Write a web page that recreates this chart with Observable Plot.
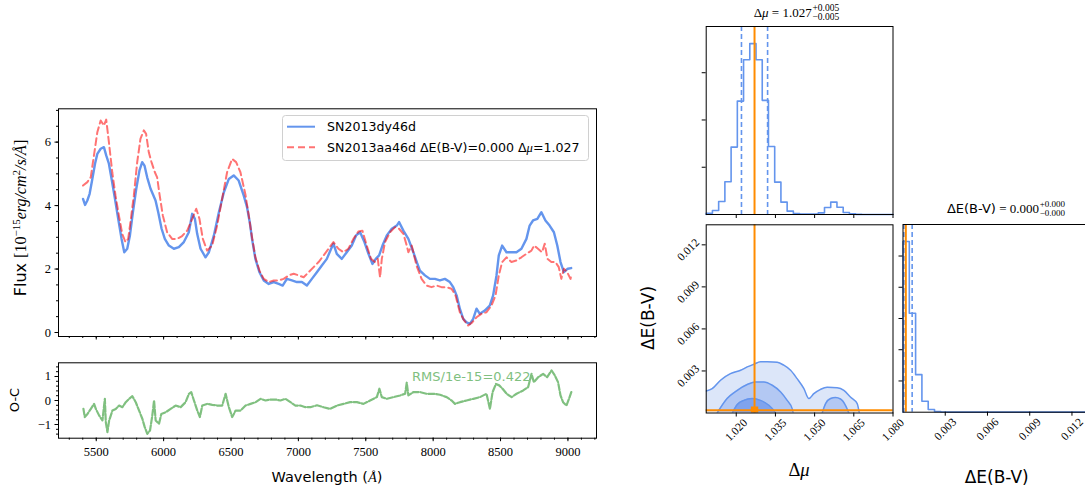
<!DOCTYPE html>
<html><head><meta charset="utf-8">
<script src="https://cdn.jsdelivr.net/npm/d3@7"></script>
<script src="https://cdn.jsdelivr.net/npm/@observablehq/plot@0.6"></script>
<style>
body{margin:0;background:#fff}
#fig{position:relative;width:1085px;height:490px;overflow:hidden;background:#fff}
#fig svg{position:absolute;overflow:visible}
</style></head><body><div id="fig"></div><script>
// ---------- spectrum data ----------
const blueWave = [5402,5417,5434,5451,5471,5491,5508,5533,5557,5574,5594,5614,5639,5663,5688,5708,5730,5750,5772,5797,5821,5841,5858,5878,5903,5922,5940,5960,5985,6009,6039,6076,6113,6150,6187,6212,6232,6249,6274,6311,6336,6373,6410,6447,6484,6520,6557,6594,6619,6640,6656,6681,6711,6743,6780,6817,6854,6883,6915,6952,6989,7026,7063,7100,7137,7174,7211,7243,7260,7285,7322,7359,7396,7428,7458,7490,7520,7550,7574,7599,7624,7656,7693,7730,7747,7779,7816,7853,7880,7902,7939,7976,8013,8050,8087,8124,8149,8174,8198,8223,8248,8272,8297,8322,8346,8383,8420,8445,8470,8487,8512,8544,8581,8618,8655,8692,8716,8741,8773,8803,8833,8864,8896,8921,8945,8970,8999,9024];
const blueFlux = [4.21,4.02,4.16,4.37,4.84,5.32,5.63,5.79,5.84,5.58,5.32,4.84,4.21,3.58,2.95,2.53,2.64,3.06,3.79,4.53,5.11,5.37,5.26,4.89,4.53,4.34,4.16,3.79,3.27,2.95,2.74,2.64,2.69,2.85,3.16,3.74,3.58,3.11,2.64,2.37,2.53,3.06,3.79,4.42,4.84,4.95,4.79,4.32,3.95,3.45,2.95,2.32,1.90,1.64,1.53,1.59,1.53,1.48,1.69,1.64,1.59,1.59,1.48,1.69,1.90,2.11,2.32,2.64,2.80,2.48,2.32,2.53,2.74,3.06,3.16,2.85,2.48,2.16,2.32,2.43,2.74,3.06,3.27,3.37,3.48,3.21,2.95,2.53,2.20,1.95,1.80,1.69,1.69,1.64,1.69,1.59,1.43,1.17,0.75,0.43,0.32,0.27,0.43,0.75,0.59,0.69,0.85,1.17,1.80,2.43,2.74,2.53,2.53,2.53,2.64,2.95,3.37,3.53,3.58,3.79,3.53,3.37,3.16,2.74,2.22,1.90,2.01,2.03];
const redWave = [5402,5434,5459,5483,5508,5533,5557,5574,5594,5619,5643,5668,5693,5717,5737,5754,5779,5804,5828,5853,5870,5890,5910,5935,5952,5969,5994,6026,6063,6100,6137,6175,6212,6242,6266,6291,6323,6360,6397,6434,6471,6508,6538,6570,6607,6632,6656,6681,6711,6743,6780,6817,6854,6891,6928,6965,7002,7039,7076,7113,7150,7187,7224,7260,7297,7334,7371,7408,7445,7475,7507,7539,7569,7589,7606,7619,7643,7680,7717,7747,7779,7804,7816,7841,7877,7914,7951,7988,8025,8062,8099,8136,8166,8198,8230,8260,8290,8322,8359,8396,8433,8463,8487,8512,8544,8581,8618,8655,8692,8729,8749,8778,8808,8828,8848,8877,8907,8932,8951,8970,8995,9019,9029];
const redFlux = [4.63,4.74,4.89,5.58,6.31,6.68,6.52,6.71,6.00,5.05,4.32,3.69,3.11,2.85,2.95,3.48,4.32,5.37,6.10,6.37,6.26,5.68,5.37,5.05,4.89,4.37,3.69,3.16,2.95,2.95,3.04,3.21,3.58,3.90,3.58,2.95,2.58,2.74,3.37,4.21,5.05,5.47,5.37,5.05,4.35,3.68,3.00,2.37,1.95,1.69,1.59,1.64,1.64,1.69,1.80,1.85,1.80,1.74,1.90,2.06,2.22,2.43,2.64,2.85,2.64,2.53,2.64,2.95,3.18,3.21,2.74,2.32,2.22,2.32,1.74,2.32,2.85,3.16,3.32,3.27,3.11,2.74,2.53,2.74,2.10,1.69,1.48,1.43,1.48,1.43,1.43,1.38,1.17,0.64,0.38,0.22,0.32,0.48,0.59,0.64,0.85,1.17,1.80,2.22,2.37,2.22,2.27,2.37,2.48,2.58,2.74,2.64,2.53,2.80,2.32,2.22,2.22,2.06,1.69,2.01,1.90,1.69,1.85];
const resWave = [5405,5415,5435,5460,5484,5497,5522,5546,5564,5571,5583,5596,5620,5645,5670,5694,5719,5744,5768,5793,5818,5842,5860,5879,5899,5916,5929,5941,5966,5983,6015,6052,6089,6126,6163,6188,6205,6225,6250,6269,6287,6324,6361,6398,6435,6460,6484,6509,6534,6571,6608,6645,6682,6719,6756,6793,6830,6867,6904,6941,6978,7015,7052,7089,7138,7187,7236,7286,7335,7384,7434,7483,7532,7582,7601,7619,7656,7705,7755,7792,7804,7816,7853,7903,7952,8001,8051,8100,8137,8162,8199,8248,8298,8347,8396,8421,8441,8466,8490,8515,8545,8582,8619,8668,8705,8730,8747,8779,8816,8846,8878,8903,8927,8945,8964,8989,9008,9025];
const resVal = [-0.35,-0.69,-0.56,-0.35,-0.14,-0.35,-0.63,-0.83,0.07,-0.90,-1.32,-0.83,-0.42,-0.35,-0.21,-0.28,-0.07,0.07,0.18,-0.07,-0.42,-0.76,-1.11,-1.39,-1.25,-0.63,0.00,-0.83,-0.97,-0.56,-0.49,-0.35,-0.21,-0.28,-0.07,0.28,0.35,0.00,-0.42,-0.69,-0.21,-0.14,-0.18,-0.21,-0.21,0.28,-0.28,-0.69,-0.42,-0.42,-0.21,-0.14,-0.07,0.07,0.00,0.04,0.04,0.00,0.07,-0.07,-0.21,-0.21,-0.28,-0.28,-0.20,-0.28,-0.35,-0.21,-0.14,-0.07,-0.07,-0.14,0.00,0.14,0.49,0.14,0.07,0.14,0.21,0.28,0.74,0.21,0.35,0.35,0.28,0.28,0.24,0.14,0.00,-0.14,-0.07,0.00,0.07,0.14,0.28,-0.35,0.35,0.69,0.63,0.49,0.28,0.14,0.28,0.42,0.56,1.11,0.76,0.97,1.11,0.97,1.25,1.04,0.76,0.21,-0.07,-0.21,0.07,0.35];
const waveTicks = [5500,6000,6500,7000,7500,8000,8500,9000];
const fluxTicks = [0,2,4,6];
const resTicks = [-1,0,1];
const legendLabels = ["SN2013dy46d", "SN2013aa46d ΔE(B-V)=0.000 Δ", "μ", "=1.027"];
const rmsLabel = "RMS/1e-15=0.422";

// ---------- corner data ----------
const muRange = [1.0085, 1.080];
const muCounts = [28,85,275,692,1426,2400,3276,3616,3276,2415,1440,685,261,71,21,7,7,7,35,148,261,155,42,14,3,0,0,0,0,0];
const eRange = [0, 0.01343];
const eCounts = [5463,3170,1202,351,85,21,6,4,3,2,2,1,1,1,1,1,1,1,1,1,1,1,1,1,1,1,1,1,1,1];
const truthMu = 1.027, truthE = 0.0002;
const muQuant = [1.022, 1.032];
const eQuant = [0.00006, 0.00065];
const muTicks = [1.020, 1.035, 1.050, 1.065, 1.080];
const eTicks = [0.003, 0.006, 0.009, 0.012];
const outerX = [1.0085,1.0108,1.0140,1.0178,1.0217,1.0242,1.0268,1.0293,1.0319,1.0357,1.0382,1.0408,1.0433,1.0459,1.0478,1.0497,1.0523,1.0548,1.0586,1.0612,1.0637,1.0663,1.0671];
const outerY = [0.00157,0.00174,0.00234,0.00281,0.00305,0.00329,0.00348,0.00365,0.00365,0.00362,0.00341,0.00305,0.00245,0.00174,0.00103,0.00138,0.00169,0.00184,0.00181,0.00162,0.00114,0.00067,0];
const midX = [1.0127,1.0165,1.0204,1.0242,1.0274,1.0306,1.0338,1.0370,1.0395,1.0414,1.0418];
const midY = [0,0.00103,0.00162,0.00203,0.00222,0.00222,0.00198,0.0015,0.0009,0.00031,0];
const mid2X = [1.0529,1.0542,1.0561,1.0580,1.0599,1.0618,1.0631];
const mid2Y = [0,0.00067,0.00103,0.0011,0.001,0.00055,0];
const innerX = [1.0185,1.0204,1.0229,1.0261,1.0293,1.0325,1.0344,1.0350];
const innerY = [0,0.0006,0.0009,0.00103,0.0009,0.00055,0.00017,0];

const BLUE = "#6495ED", ORANGE = "#ff8c00", GREEN = "#80c080";
const SERIF = "Liberation Serif", SANS = "DejaVu Sans";
const fig = document.getElementById("fig");
const none = () => "";

function place(svg, left, topPx) { svg.style.left = left + "px"; svg.style.top = topPx + "px"; fig.appendChild(svg); return svg; }
function txt(svg, x, y, parts, o = {}) {
  const t = d3.select(svg).append("text").attr("x", x).attr("y", y)
    .attr("text-anchor", o.anchor || "start").attr("font-size", o.size || 13)
    .attr("font-family", o.family || SANS).attr("fill", o.fill || "black");
  if (o.rotate) t.attr("transform", `rotate(${o.rotate},${x},${y})`);
  for (const p of parts) {
    const s = t.append("tspan").text(p.t);
    if (p.family) s.attr("font-family", p.family);
    if (p.style) s.attr("font-style", p.style);
    if (p.size) s.attr("font-size", p.size);
    if (p.dy) s.attr("dy", p.dy);
  }
  return t;
}
function steps(range, counts) {
  const n = counts.length, w = (range[1] - range[0]) / n;
  const xs = [range[0]], ys = [0];
  counts.forEach((c, i) => { xs.push(range[0] + i * w); ys.push(c); });
  xs.push(range[1]); ys.push(counts[n - 1]);
  xs.push(range[1]); ys.push(0);
  return [xs, ys];
}
const style = {fontFamily: SERIF, fontSize: "12.5px", overflow: "visible", background: "transparent"};

// ---------- spectrum panel ----------
const specPlot = Plot.plot({
  width: 610, height: 245, marginLeft: 58, marginRight: 14, marginTop: 8.3, marginBottom: 9,
  x: {domain: [5220, 9212], axis: null}, y: {domain: [-0.126, 7.05], axis: null}, style,
  marks: [
    Plot.line(blueWave, {x: blueWave, y: blueFlux, stroke: BLUE, strokeWidth: 2.4}),
    Plot.line(redWave, {x: redWave, y: redFlux, stroke: "red", strokeOpacity: 0.55, strokeWidth: 2, strokeDasharray: "7,4"}),
    Plot.frame({stroke: "black"}),
    Plot.axisX({ticks: d3.range(5300, 9201, 100), tickSize: 2, tickFormat: none, label: null}),
    Plot.axisX({ticks: waveTicks, tickSize: 3.5, tickFormat: none, label: null}),
    Plot.axisY({ticks: d3.range(0.5, 7.01, 0.5), tickSize: 2, tickFormat: none, label: null}),
    Plot.axisY({ticks: fluxTicks, tickSize: 3.5, tickPadding: 4, label: null})
  ]
});
place(specPlot, 0, 100);
const sg = d3.select(specPlot);
sg.append("rect").attr("x", 282.5).attr("y", 15.5).attr("width", 306).attr("height", 45).attr("rx", 3)
  .attr("fill", "white").attr("fill-opacity", 0.8).attr("stroke", "#d0d0d0");
sg.append("line").attr("x1", 287).attr("x2", 315).attr("y1", 26.7).attr("y2", 26.7).attr("stroke", BLUE).attr("stroke-width", 2);
sg.append("line").attr("x1", 287).attr("x2", 315).attr("y1", 47.3).attr("y2", 47.3).attr("stroke", "red").attr("stroke-opacity", 0.55).attr("stroke-width", 2).attr("stroke-dasharray", "7,4");
txt(specPlot, 327, 31.3, [{t: legendLabels[0]}], {size: 12.6});
txt(specPlot, 327, 51.8, [{t: legendLabels[1]}, {t: legendLabels[2], family: SERIF, style: "italic"}, {t: legendLabels[3]}], {size: 12.6});
txt(specPlot, 26, 118, [
  {t: "Flux "}, {t: "[10", family: SERIF}, {t: "−15", family: SERIF, size: 11, dy: -6},
  {t: "erg/cm", family: SERIF, style: "italic", dy: 6}, {t: "2", family: SERIF, size: 11, dy: -6},
  {t: "/s/Å", family: SERIF, style: "italic", dy: 6}, {t: "]", family: SERIF}
], {size: 16, anchor: "middle", rotate: -90});

// ---------- residual panel ----------
const resPlot = Plot.plot({
  width: 610, height: 135, marginLeft: 58, marginRight: 14, marginTop: 7.3, marginBottom: 52.3,
  x: {domain: [5220, 9212], axis: null}, y: {domain: [-1.57, 1.57], axis: null}, style,
  marks: [
    Plot.line(resWave, {x: resWave, y: resVal, stroke: GREEN, strokeWidth: 2.2, strokeDasharray: "6,2"}),
    Plot.text([rmsLabel], {x: 7843, y: 1.0, text: d => d, textAnchor: "start", fill: GREEN, fontSize: 13, fontFamily: SANS}),
    Plot.frame({stroke: "black"}),
    Plot.axisX({ticks: d3.range(5300, 9201, 100), tickSize: 2, tickFormat: none, label: null}),
    Plot.axisX({ticks: waveTicks, tickSize: 3.5, tickPadding: 5, label: null, tickFormat: d => String(d)}),
    Plot.axisY({ticks: d3.range(-1.4, 1.41, 0.2), tickSize: 2, tickFormat: none, label: null}),
    Plot.axisY({ticks: resTicks, tickSize: 3.5, tickPadding: 4, label: null, tickFormat: d => d < 0 ? "−" + (-d) : String(d)})
  ]
});
place(resPlot, 0, 355);
txt(resPlot, 19, 45, [{t: "O-C"}], {size: 13, anchor: "middle", rotate: -90});
txt(resPlot, 327, 127, [{t: "Wavelength ("}, {t: "Å", family: SERIF, style: "italic"}, {t: ")"}], {size: 14.5, anchor: "middle"});

// ---------- corner: top histogram ----------
const [mx, my] = steps(muRange, muCounts);
const muHist = Plot.plot({
  width: 220, height: 222, marginLeft: 15.7, marginRight: 17.5, marginTop: 26, marginBottom: 8,
  x: {domain: muRange, axis: null}, y: {domain: [0, 3978], axis: null}, style,
  marks: [
    Plot.line(mx, {x: mx, y: my, stroke: BLUE, strokeWidth: 1.6, curve: "step-after"}),
    Plot.ruleX(muQuant, {stroke: BLUE, strokeWidth: 1.6, strokeDasharray: "5,3"}),
    Plot.ruleX([truthMu], {stroke: ORANGE, strokeWidth: 2}),
    Plot.frame({stroke: "black"}),
    Plot.axisX({ticks: muTicks, tickSize: 4, tickFormat: none, label: null}),
    Plot.axisY({ticks: [1000, 2000, 3000], tickSize: 4, tickFormat: none, label: null})
  ]
});
place(muHist, 690, 0);
txt(muHist, 121.7, 17, [{t: "Δ"}, {t: "μ", style: "italic"}, {t: " = 1.027"}], {family: SERIF, size: 13, anchor: "end"});
txt(muHist, 122.5, 10.5, [{t: "+0.005"}], {family: SERIF, size: 9.5});
txt(muHist, 122.5, 20, [{t: "−0.005"}], {family: SERIF, size: 9.5});

// ---------- corner: 2D panel ----------
const fmt3 = d => d.toFixed(3);
const jointPlot = Plot.plot({
  width: 280, height: 275, marginLeft: 85.7, marginRight: 7.5, marginTop: 9.3, marginBottom: 77.5,
  x: {domain: muRange, axis: null}, y: {domain: eRange, axis: null}, style,
  marks: [
    Plot.areaY(outerX, {x: outerX, y: outerY, fill: "#dce6f9", curve: "monotone-x", clip: true}),
    Plot.areaY(midX, {x: midX, y: midY, fill: "#b3c8f3", curve: "monotone-x", clip: true}),
    Plot.areaY(mid2X, {x: mid2X, y: mid2Y, fill: "#b3c8f3", curve: "monotone-x", clip: true}),
    Plot.areaY(innerX, {x: innerX, y: innerY, fill: "#7fa3ee", curve: "monotone-x", clip: true}),
    Plot.line(outerX, {x: outerX, y: outerY, stroke: BLUE, strokeWidth: 1.5, curve: "monotone-x", clip: true}),
    Plot.line(midX, {x: midX, y: midY, stroke: BLUE, strokeWidth: 1.5, curve: "monotone-x", clip: true}),
    Plot.line(mid2X, {x: mid2X, y: mid2Y, stroke: BLUE, strokeWidth: 1.5, curve: "monotone-x", clip: true}),
    Plot.line(innerX, {x: innerX, y: innerY, stroke: BLUE, strokeWidth: 1.5, curve: "monotone-x", clip: true}),
    Plot.ruleX([truthMu], {stroke: ORANGE, strokeWidth: 2}),
    Plot.ruleY([truthE], {stroke: ORANGE, strokeWidth: 2}),
    Plot.dot([truthMu], {x: truthMu, y: truthE, symbol: "square", r: 4.2, fill: ORANGE, clip: true}),
    Plot.frame({stroke: "black"}),
    Plot.axisX({ticks: muTicks, tickSize: 4, tickFormat: none, label: null}),
    Plot.axisY({ticks: eTicks, tickSize: 4, tickFormat: none, label: null}),
    Plot.text(muTicks, {x: d => d, frameAnchor: "bottom", dy: 17, rotate: -45, textAnchor: "middle", lineAnchor: "middle", text: fmt3, fontSize: 11.5}),
    Plot.text(eTicks, {y: d => d, frameAnchor: "left", dx: -18, dy: 5, rotate: -45, textAnchor: "middle", lineAnchor: "middle", text: fmt3, fontSize: 11.5})
  ]
});
place(jointPlot, 620, 215);
txt(jointPlot, 34, 103, [{t: "ΔE(B-V)"}], {size: 17, anchor: "middle", rotate: -90});
txt(jointPlot, 179, 261, [{t: "Δ"}, {t: "μ", style: "italic"}], {family: SERIF, size: 18.5, anchor: "middle"});

// ---------- corner: right histogram ----------
const [ex, ey] = steps(eRange, eCounts);
const eHist = Plot.plot({
  width: 205, height: 300, marginLeft: 12.5, marginRight: 3.4, marginTop: 34, marginBottom: 78.3,
  x: {domain: eRange, axis: null}, y: {domain: [0, 6009], axis: null}, style,
  marks: [
    Plot.line(ex, {x: ex, y: ey, stroke: BLUE, strokeWidth: 1.6, curve: "step-after"}),
    Plot.ruleX(eQuant, {stroke: BLUE, strokeWidth: 1.6, strokeDasharray: "5,3"}),
    Plot.ruleX([truthE], {stroke: ORANGE, strokeWidth: 2}),
    Plot.frame({stroke: "black"}),
    Plot.axisX({ticks: eTicks, tickSize: 4, tickFormat: none, label: null}),
    Plot.axisY({ticks: [1000, 2000, 3000, 4000, 5000], tickSize: 4, tickFormat: none, label: null}),
    Plot.text(eTicks, {x: d => d, frameAnchor: "bottom", dy: 17, rotate: -45, textAnchor: "middle", lineAnchor: "middle", text: fmt3, fontSize: 11.5})
  ]
});
place(eHist, 890, 190);
txt(eHist, 149, 23, [{t: "ΔE(B-V)"}, {t: " = 0.000", family: SERIF}], {size: 13, anchor: "end"});
txt(eHist, 149.8, 17, [{t: "+0.000"}], {family: SERIF, size: 9});
txt(eHist, 149.8, 26, [{t: "−0.000"}], {family: SERIF, size: 9});
txt(eHist, 106.7, 293, [{t: "ΔE(B-V)"}], {size: 17, anchor: "middle"});
</script></body></html>
